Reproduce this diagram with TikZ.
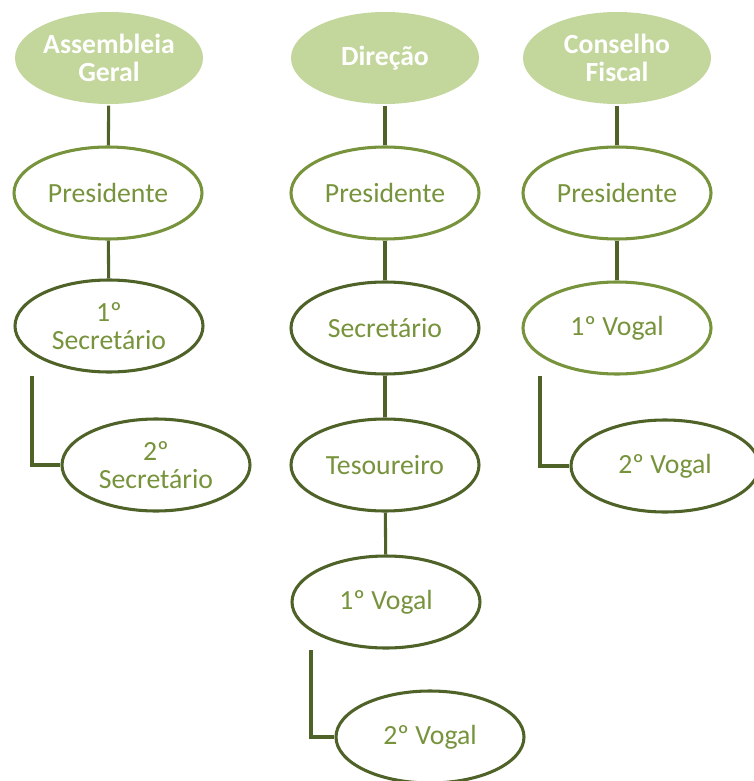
\documentclass[tikz,border=0pt]{standalone}
\usepackage{fontspec}
\setmainfont{Carlito}
\usetikzlibrary{shapes.geometric}

\definecolor{headfill}{HTML}{C3D69B}
\definecolor{leafgreen}{HTML}{77933C}
\definecolor{olive}{HTML}{4F6228}

\begin{document}
\begin{tikzpicture}[x=0.75pt, y=-0.75pt,
  cargo/.style={ellipse, draw, line width=2.3pt, fill=white, text=leafgreen,
    minimum width=141pt, minimum height=69pt, inner sep=0pt, align=center,
    font=\fontsize{20.8}{20.5}\selectfont},
  orgao/.style={cargo, draw=none, fill=headfill, text=white, font=\fontsize{20.8}{20.5}\selectfont\bfseries},
  pres/.style={cargo, draw=leafgreen},
  membro/.style={cargo, draw=olive},
  ligacao/.style={draw=olive, line width=2.3pt}]
  \useasboundingbox (0,0) rectangle (753,781);

  % Assembleia Geral
  \node[orgao]  (ag)   at (109,58)  {Assembleia\\Geral};
  \node[pres]   (agp)  at (108,193) {Presidente};
  \node[membro] (ags1) at (109,326) {1º\\Secretário};
  \node[membro] (ags2) at (156,465) {2º\\Secretário};

  % Direcao
  \node[orgao]  (dir)  at (385,58)  {Direção};
  \node[pres]   (dirp) at (385,193) {Presidente};
  \node[membro] (dirs) at (385,328) {Secretário};
  \node[membro] (dirt) at (385,465) {Tesoureiro};
  \node[membro] (dirv1) at (386,602) {1º Vogal};
  \node[membro] (dirv2) at (430,737) {2º Vogal};

  % Conselho Fiscal
  \node[orgao]  (cf)   at (617,58)  {Conselho\\Fiscal};
  \node[pres]   (cfp)  at (617,193) {Presidente};
  \node[pres]   (cfv1) at (617,328) {1º Vogal};
  \node[membro] (cfv2) at (665,466) {2º Vogal};

  % ligacoes
  \draw[ligacao] (ag) -- (agp);
  \draw[ligacao] (agp) -- (ags1);
  \coordinate (agk) at (32,376);
  \draw[ligacao] (agk) |- (ags2.west);

  \draw[ligacao] (dir) -- (dirp);
  \draw[ligacao] (dirp) -- (dirs);
  \draw[ligacao] (dirs) -- (dirt);
  \draw[ligacao] (dirt) -- (dirv1);
  \coordinate (dirk) at (311,650);
  \draw[ligacao] (dirk) |- (dirv2.west);

  \draw[ligacao] (cf) -- (cfp);
  \draw[ligacao] (cfp) -- (cfv1);
  \coordinate (cfk) at (540,376);
  \draw[ligacao] (cfk) |- (cfv2.west);
\end{tikzpicture}
\end{document}
